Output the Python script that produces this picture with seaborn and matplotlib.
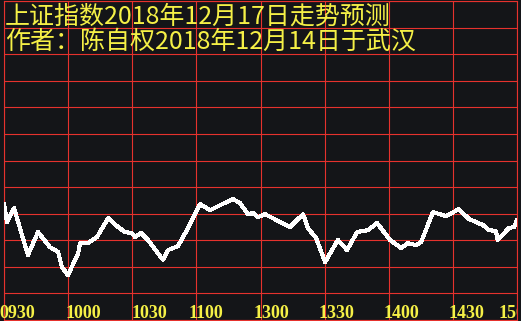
import matplotlib
matplotlib.use("Agg")
import matplotlib.pyplot as plt
import matplotlib.transforms as mtransforms
import seaborn as sns
import pandas as pd

# ---- data ----
minutes = [0, 1.4, 4.7, 11.2, 15.9, 21.5, 25.3, 27.1, 29.9, 34.6, 35.6, 39.3, 43.5,
           48.7, 53.3, 56.6, 59.9, 61.3, 64.1, 67.4, 74.4, 76.7, 81.4, 86.1, 91.7,
           96.4, 101.1, 107.1, 110.4, 114.1, 116.5, 118.8, 122.1, 133.8, 139.9,
           142.2, 146.0, 150.2, 156.2, 160.5, 165.2, 170.3, 174.5, 180.6, 185.7,
           189.0, 192.7, 195.1, 200.7, 206.8, 212.8, 217.5, 224.1, 226.9, 230.1,
           231.0, 236.2, 238.6, 240]
values = [43.6, 36.8, 42.1, 24.4, 33.1, 27.4, 25.6, 19.9, 16.9, 24.8, 28.9, 28.9, 31.2,
          38.3, 35.0, 33.1, 32.7, 31.2, 32.7, 30.1, 22.6, 26.3, 27.8, 34.6, 43.6,
          41.3, 43.2, 45.5, 44.0, 39.8, 40.2, 38.7, 39.8, 35.0, 39.8,
          34.6, 30.8, 21.8, 30.1, 26.3, 33.1, 33.8, 36.5, 30.1, 27.1,
          28.9, 28.2, 29.3, 40.6, 39.1, 41.7, 38.0, 35.7, 33.8, 33.5,
          30.1, 34.6, 35.0, 37.6]
tick_minutes = [0, 30, 60, 90, 120, 150, 180, 210, 240]
tick_labels = ["0930", "1000", "1030", "1100", "1300", "1330", "1400", "1430", "1500"]
title_lines = ["上证指数2018年12月17日走势预测", "作者：陈自权2018年12月14日于武汉"]

# ---- style ----
BG = "#141518"
RED = "#e6322d"
YELLOW = "#f5f046"

sns.set_style("dark")
plt.rcParams["font.family"] = ["Noto Sans CJK SC", "DejaVu Sans"]

W, H = 521, 321
fig = plt.figure(figsize=(W / 100, H / 100), dpi=100, facecolor=BG)
ax = fig.add_axes([4 / W, 1 - 320 / H, 513 / W, 319 / H])
ax.set_facecolor(BG)

df = pd.DataFrame({"minute": minutes, "value": values})
sns.lineplot(data=df, x="minute", y="value", ax=ax, color="white", linewidth=2.2,
             antialiased=False, zorder=3)

ax.set_xlim(0, 240)
ax.set_ylim(0, 120)
ax.set_xticks(tick_minutes)
ax.set_yticks(range(0, 121, 10))
ax.set_xticklabels([])
ax.set_yticklabels([])
ax.tick_params(length=0)
ax.set_xlabel("")
ax.set_ylabel("")
ax.grid(True, color=RED, linewidth=0.8)
for s in ax.spines.values():
    s.set_visible(True)
    s.set_color(RED)
    s.set_linewidth(0.8)

# x tick labels drawn inside the bottom row
offsets = [-5, -3, -1, -8, -7, -6, -5, -4, -18]
for m, lab, dx in zip(tick_minutes, tick_labels, offsets):
    tr = mtransforms.blended_transform_factory(ax.transData, fig.transFigure)
    tr = mtransforms.offset_copy(tr, fig=fig, x=dx, y=0, units="dots")
    t = ax.text(m, 1 - 318 / H, lab, transform=tr, ha="left", va="baseline",
                color=YELLOW, fontsize=13, fontfamily="Liberation Serif",
                fontweight="bold", zorder=4)
    if lab == tick_labels[-1]:
        t.set_clip_on(True)
        t.set_clip_box(ax.bbox)
    else:
        t.set_clip_on(False)

# title lines
fig.text(5 / W, 1 - 17 / H, title_lines[0], color=YELLOW, fontsize=18,
         ha="left", va="center", zorder=5)
fig.text(5 / W, 1 - 42 / H, title_lines[1], color=YELLOW, fontsize=18,
         ha="left", va="center", zorder=5)

fig.savefig("out.png", dpi=100, facecolor=BG)
